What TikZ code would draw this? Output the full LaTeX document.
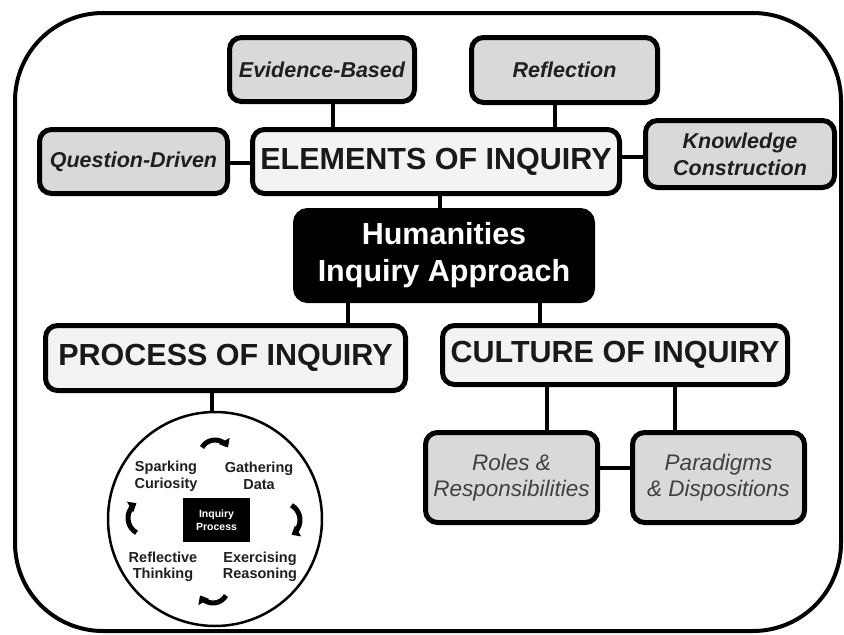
\documentclass[tikz,border=0pt]{standalone}
\usepackage{fontspec}
\setmainfont{Liberation Sans}
\usetikzlibrary{arrows.meta,calc}
\definecolor{leafgray}{HTML}{D9D9D9}
\definecolor{maingray}{HTML}{F3F3F3}
\begin{document}
\begin{tikzpicture}[x=1pt,y=-1pt,
  box/.style={draw=black, line width=5pt, rounded corners=12pt, inner sep=0pt, align=center},
  leaf/.style={box, fill=leafgray, text=black!88, font=\fontsize{21.5}{27}\selectfont\bfseries\itshape},
  mainbox/.style={box, fill=maingray, text=black!90, font=\fontsize{30.5}{33}\selectfont\bfseries},
  leafit/.style={box, fill=leafgray, text=black!75, font=\fontsize{22.5}{26}\selectfont\itshape},
  link/.style={line width=4pt},
  lbl/.style={align=center, font=\fontsize{14.5}{16.5}\selectfont\bfseries, inner sep=0pt, text=black!88},
  cyc/.style={line width=5pt, -{Triangle[width=12pt,length=7.5pt]}},
]
\useasboundingbox (0,0) rectangle (844,635);
\fill[white] (0,0) rectangle (844,635);
\draw[line width=4pt, rounded corners=88pt] (15,13) rectangle (841,631);

% x positions of connectors
\coordinate (xe) at (333,0);
\coordinate (xr) at (555,0);
\coordinate (xh) at (440,0);
\coordinate (xp) at (348,0);
\coordinate (xc) at (540,0);
\coordinate (xro) at (547,0);
\coordinate (xpa) at (675,0);
\coordinate (xs) at (212,0);
\coordinate (yq) at (0,163);
\coordinate (yk) at (0,157);
\coordinate (yrp) at (0,468);

% nodes
\node[leaf, minimum width=185pt, minimum height=64pt] (evid) at (322,69.5) {Evidence-Based};
\node[leaf, minimum width=186pt, minimum height=65pt] (refl) at (564.5,70) {Reflection};
\node[leaf, minimum width=188pt, minimum height=64pt] (quest) at (133.5,161.5) {Question-Driven};
\node[mainbox, minimum width=367pt, minimum height=64pt] (elem) at (436,161.5) {ELEMENTS OF INQUIRY};
\node[leaf, minimum width=189pt, minimum height=67pt] (know) at (740,154) {Knowledge\\Construction};
\node[box, fill=black, text=white, minimum width=297pt, minimum height=90pt,
      font=\fontsize{30.5}{37}\selectfont\bfseries] (hum) at (444,255.5) {Humanities\\Inquiry Approach};
\node[mainbox, minimum width=360pt, minimum height=65pt] (proc) at (225.5,358) {PROCESS OF INQUIRY};
\node[mainbox, minimum width=345pt, minimum height=59pt] (cult) at (615,355) {CULTURE OF INQUIRY};
\node[leafit, minimum width=172pt, minimum height=90pt] (roles) at (511.5,477.5) {Roles \&\\Responsibilities};
\node[leafit, minimum width=172pt, minimum height=90pt] (para) at (718.5,477.5) {Paradigms\\\& Dispositions};

% connectors
\draw[link] (evid.south -| xe) -- (elem.north -| xe);
\draw[link] (refl.south -| xr) -- (elem.north -| xr);
\draw[link] (quest.east |- yq) -- (elem.west |- yq);
\draw[link] (elem.east |- yk) -- (know.west |- yk);
\draw[link] (elem.south -| xh) -- (hum.north -| xh);
\draw[link] (hum.south -| xp) -- (proc.north -| xp);
\draw[link] (hum.south -| xc) -- (cult.north -| xc);
\draw[link] (cult.south -| xro) -- (roles.north -| xro);
\draw[link] (cult.south -| xpa) -- (para.north -| xpa);
\draw[link] (roles.east |- yrp) -- (para.west |- yrp);

% inquiry cycle
\node[circle, draw, line width=2.5pt, minimum size=214pt, inner sep=0pt] (cycle) at (215,519) {};
\draw[link] (proc.south -| xs) -- (cycle.north -| xs);
\node[fill=black, text=white, minimum width=67pt, minimum height=44pt, inner sep=0pt, align=center,
      font=\fontsize{10.5}{12.5}\selectfont\bfseries] (ip) at (216.5,520) {Inquiry\\Process};
\node[lbl] (spark) at (166,476) {Sparking\\Curiosity};
\node[lbl] (gath) at (259,476) {Gathering\\Data};
\node[lbl] (refth) at (163,567) {Reflective\\Thinking};
\node[lbl] (exer) at (260,567) {Exercising\\Reasoning};

\draw[cyc] ($(215,455)+(-150:15)$) arc[start angle=-150, end angle=-30, radius=15];
\draw[cyc] ($(283,520)+(-60:17)$) arc[start angle=-60, end angle=60, radius=17];
\draw[cyc] ($(213,588)+(30:15)$) arc[start angle=30, end angle=150, radius=15];
\draw[cyc] ($(145,518)+(120:17)$) arc[start angle=120, end angle=240, radius=17];
\end{tikzpicture}
\end{document}
